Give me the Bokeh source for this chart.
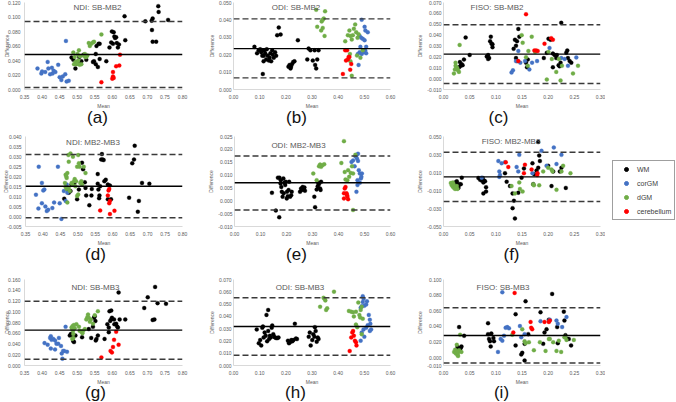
from bokeh.plotting import figure
from bokeh.models import (Span, Label, FixedTicker, NumeralTickFormatter, Range1d,
                          Legend, LegendItem, Div)
from bokeh.layouts import row, column
from bokeh.embed import file_html
from bokeh.resources import INLINE

GROUPS = ["WM", "corGM", "dGM", "cerebellum"]
COLORS = {"WM": "#000000", "corGM": "#4472C4", "dGM": "#70AD47", "cerebellum": "#FF0000"}

NDI_XTICKS = [0.35, 0.40, 0.45, 0.50, 0.55, 0.60, 0.65, 0.70, 0.75, 0.80]
ODI_XTICKS = [0.0, 0.1, 0.2, 0.3, 0.4, 0.5, 0.6]
FISO_XTICKS = [0.0, 0.05, 0.10, 0.15, 0.20, 0.25, 0.30]

# ---------------- (a) NDI: SB-MB2 ----------------
A_TITLE = "NDI: SB-MB2"
A_YTICKS = [0.0, 0.02, 0.04, 0.06, 0.08, 0.10, 0.12]
A_MEAN, A_UP, A_LO = 0.0482, 0.0937, 0.0027
A_WM = [(0.484,0.044),(0.489,0.041),(0.495,0.029),(0.501,0.038),(0.506,0.045),(0.512,0.039),(0.518,0.048),(0.526,0.041),(0.548,0.039),(0.553,0.049),(0.555,0.060),(0.561,0.063),(0.564,0.063),(0.545,0.038),(0.553,0.035),(0.559,0.031),(0.564,0.042),(0.583,0.039),(0.592,0.058),(0.597,0.065),(0.599,0.080),(0.604,0.079),(0.608,0.071),(0.611,0.072),(0.613,0.064),(0.616,0.058),(0.606,0.073),(0.602,0.063),(0.619,0.062),(0.637,0.068),(0.635,0.101),(0.694,0.094),(0.715,0.066),(0.713,0.082),(0.715,0.098),(0.725,0.066),(0.731,0.115),(0.732,0.107),(0.759,0.096),(0.712,0.095)]
A_COR = [(0.387,0.029),(0.398,0.022),(0.400,0.025),(0.409,0.024),(0.416,0.038),(0.418,0.029),(0.423,0.021),(0.430,0.022),(0.433,0.026),(0.438,0.024),(0.446,0.034),(0.450,0.017),(0.455,0.013),(0.459,0.018),(0.466,0.021),(0.470,0.011),(0.476,0.012),(0.468,0.067),(0.428,0.030)]
A_DGM = [(0.489,0.051),(0.493,0.045),(0.495,0.038),(0.498,0.035),(0.503,0.040),(0.505,0.054),(0.501,0.049),(0.508,0.046),(0.512,0.035),(0.517,0.047),(0.522,0.049),(0.526,0.045),(0.529,0.047),(0.533,0.064),(0.536,0.060),(0.540,0.063),(0.545,0.065),(0.548,0.066),(0.569,0.076),(0.523,0.045),(0.491,0.035),(0.500,0.036),(0.507,0.034)]
A_CER = [(0.569,0.010),(0.602,0.024),(0.602,0.018),(0.604,0.016),(0.600,0.015),(0.611,0.032),(0.620,0.033),(0.622,0.048)]

# ---------------- (b) ODI: SB-MB2 ----------------
B_TITLE = "ODI: SB-MB2"
B_YTICKS = [0.0, 0.01, 0.02, 0.03, 0.04, 0.05]
B_MEAN, B_UP, B_LO = 0.0235, 0.0406, 0.0067
B_WM = [(0.080,0.0245),(0.090,0.0208),(0.096,0.0225),(0.102,0.0231),(0.106,0.0214),(0.110,0.0194),(0.112,0.0225),(0.115,0.0162),(0.116,0.0194),(0.118,0.0225),(0.121,0.0208),(0.125,0.0173),(0.127,0.0231),(0.131,0.0194),(0.135,0.0166),(0.138,0.0183),(0.141,0.0208),(0.144,0.0162),(0.148,0.0225),(0.150,0.0200),(0.154,0.0183),(0.159,0.0214),(0.163,0.0194),(0.112,0.0089),(0.167,0.0312),(0.173,0.0356),(0.180,0.0316),(0.210,0.0131),(0.214,0.0141),(0.218,0.0121),(0.220,0.0131),(0.224,0.0146),(0.228,0.0158),(0.233,0.0162),(0.246,0.0283),(0.282,0.0173),(0.287,0.0235),(0.294,0.0225),(0.303,0.0166),(0.310,0.0225),(0.312,0.0141),(0.316,0.0121),(0.320,0.0173),(0.325,0.0225)]
B_COR = [(0.490,0.0401),(0.501,0.0360),(0.504,0.0339),(0.482,0.0308),(0.488,0.0297),(0.494,0.0291),(0.501,0.0283),(0.507,0.0245),(0.475,0.0204),(0.482,0.0214),(0.490,0.0204),(0.498,0.0214),(0.503,0.0225),(0.507,0.0208),(0.478,0.0141),(0.485,0.0245),(0.513,0.0329)]
B_DGM = [(0.316,0.0458),(0.350,0.0449),(0.320,0.0360),(0.337,0.0391),(0.341,0.0401),(0.345,0.0408),(0.335,0.0339),(0.341,0.0354),(0.348,0.0308),(0.427,0.0277),(0.437,0.0312),(0.443,0.0339),(0.447,0.0308),(0.452,0.0287),(0.456,0.0312),(0.460,0.0349),(0.465,0.0374),(0.469,0.0329),(0.474,0.0297),(0.478,0.0318),(0.445,0.0204),(0.447,0.0162),(0.452,0.0079),(0.472,0.0195),(0.485,0.0183),(0.494,0.0225)]
B_CER = [(0.418,0.0089),(0.427,0.0225),(0.434,0.0225),(0.430,0.0166),(0.437,0.0173),(0.440,0.0187),(0.443,0.0187),(0.446,0.0114),(0.450,0.0146)]

# ---------------- (c) FISO: SB-MB2 ----------------
C_TITLE = "FISO: SB-MB2"
C_YTICKS = [-0.01, 0.0, 0.01, 0.02, 0.03, 0.04, 0.05, 0.06, 0.07]
C_MEAN, C_UP, C_LO = 0.0225, 0.0495, -0.0045
C_WM = [(0.0314,0.0152),(0.0327,0.0118),(0.0346,0.0133),(0.0365,0.0124),(0.0391,0.0175),(0.0423,0.0378),(0.050,0.0217),(0.030,0.0104),(0.0827,0.0203),(0.0853,0.0217),(0.0872,0.0189),(0.0891,0.0344),(0.0904,0.0386),(0.0917,0.0321),(0.0936,0.0316),(0.0936,0.0288),(0.0853,0.0180),(0.134,0.0274),(0.1365,0.0358),(0.1385,0.0302),(0.1404,0.0344),(0.143,0.0457),(0.1449,0.0386),(0.1385,0.0189),(0.1404,0.0161),(0.1596,0.0104),(0.1577,0.0147),(0.161,0.0175),(0.1917,0.0189),(0.1974,0.0237),(0.2006,0.0367),(0.2045,0.0358),(0.209,0.0231),(0.2122,0.0217),(0.2154,0.0189),(0.2167,0.0217),(0.2199,0.0124),(0.2218,0.0113),(0.2237,0.0147),(0.225,0.0513),(0.2346,0.0237),(0.2365,0.0259),(0.2378,0.0189),(0.241,0.0161),(0.2442,0.0147),(0.209,0.0104)]
C_COR = [(0.130,0.0056),(0.1327,0.0076),(0.1385,0.0161),(0.143,0.0254),(0.1468,0.0147),(0.1558,0.0161),(0.1641,0.0085),(0.1692,0.0147),(0.1788,0.0161),(0.2026,0.0282),(0.225,0.0189),(0.2314,0.018),(0.2378,0.0118),(0.2538,0.0195)]
C_DGM = [(0.0199,0.0048),(0.0218,0.0085),(0.0231,0.0118),(0.025,0.0104),(0.0263,0.0096),(0.0295,0.0062),(0.0308,0.031),(0.0276,0.0076),(0.0231,0.0147),(0.1494,0.040),(0.1513,0.033),(0.1622,0.0254),(0.1577,0.0197),(0.161,0.0118),(0.1686,0.0386),(0.175,0.0245),(0.1974,-0.0008),(0.2006,0.0245),(0.207,0.018),(0.2154,0.0062),(0.2237,-0.0017),(0.2263,0.0118),(0.2474,0.0048),(0.257,0.0118),(0.2204,0.018)]
C_CER = [(0.143,0.0161),(0.1577,0.0592),(0.1737,0.0259),(0.177,0.0259),(0.180,0.0254),(0.193,0.0321),(0.2058,0.0372),(0.209,0.0358)]

# ---------------- (d) NDI: MB2-MB3 ----------------
D_TITLE = "NDI: MB2-MB3"
D_YTICKS = [-0.005, 0.0, 0.005, 0.010, 0.015, 0.020, 0.025, 0.030, 0.035, 0.040]
D_MEAN, D_UP, D_LO = 0.0151, 0.0310, -0.0006
D_WM = [(0.461,0.0089),(0.470,0.0135),(0.474,0.0119),(0.479,0.0127),(0.482,0.016),(0.486,0.016),(0.490,0.0168),(0.498,0.0086),(0.503,0.0135),(0.512,0.0269),(0.515,0.0236),(0.520,0.0171),(0.522,0.0143),(0.524,0.0105),(0.533,0.0056),(0.539,0.0105),(0.540,0.0138),(0.557,0.0212),(0.557,0.0164),(0.559,0.0135),(0.561,0.0091),(0.562,0.0105),(0.564,0.0151),(0.567,0.0285),(0.569,0.0312),(0.571,0.0285),(0.574,0.0282),(0.576,0.0176),(0.580,0.0184),(0.586,0.0086),(0.586,0.016),(0.592,0.0155),(0.595,0.0086),(0.663,0.0354),(0.656,0.0266),(0.661,0.0285),(0.647,0.0094),(0.675,0.0078),(0.672,0.0024),(0.684,0.0168),(0.705,0.0164)]
D_COR = [(0.380,0.0109),(0.388,0.0249),(0.397,0.0168),(0.401,0.013),(0.404,0.0135),(0.387,0.004),(0.397,0.0066),(0.407,0.005),(0.411,0.0027),(0.415,0.0034),(0.427,0.0042),(0.432,0.007),(0.443,0.0249),(0.448,0.0066),(0.453,-0.0012),(0.465,0.0078),(0.470,0.0119),(0.468,0.016),(0.460,0.0127)]
D_DGM = [(0.465,0.0209),(0.467,0.020),(0.468,0.0192),(0.470,0.0217),(0.463,0.0168),(0.465,0.0148),(0.468,0.0138),(0.473,0.0307),(0.474,0.0274),(0.479,0.0315),(0.482,0.0168),(0.484,0.016),(0.486,0.0299),(0.489,0.0176),(0.491,0.0187),(0.493,0.0151),(0.495,0.0176),(0.498,0.0249),(0.501,0.0307),(0.503,0.0266),(0.505,0.0249),(0.507,0.0168),(0.510,0.0176),(0.512,0.016),(0.517,0.0249),(0.522,0.0217),(0.470,0.007),(0.477,0.0127),(0.474,0.0143),(0.498,0.0102),(0.501,0.011)]
D_CER = [(0.564,0.003),(0.588,0.013),(0.590,0.0138),(0.592,0.0078),(0.590,0.0066),(0.592,0.0012),(0.605,0.0029),(0.586,0.0105)]

# ---------------- (e) ODI: MB2-MB3 ----------------
E_TITLE = "ODI: MB2-MB3"
E_YTICKS = [-0.010, -0.005, 0.0, 0.005, 0.010, 0.015, 0.020, 0.025]
E_MEAN, E_UP, E_LO = 0.0070, 0.0174, -0.0036
E_WM = [(0.144,0.0031),(0.159,-0.0038),(0.172,-0.0064),(0.167,0.009),(0.173,0.009),(0.178,0.008),(0.180,0.0054),(0.182,0.0035),(0.185,0.0016),(0.189,0.0029),(0.192,0.007),(0.195,0.0061),(0.197,0.0074),(0.201,0.0009),(0.205,0.0018),(0.208,0.0042),(0.210,0.0074),(0.214,0.0016),(0.218,0.0022),(0.220,0.0035),(0.177,0.0067),(0.188,0.0087),(0.202,0.0035),(0.252,0.0035),(0.256,0.0048),(0.259,0.0042),(0.262,0.0054),(0.265,0.0044),(0.269,0.0052),(0.271,0.0039),(0.307,0.0016),(0.310,-0.0025),(0.316,0.0044),(0.320,0.0057),(0.322,0.007),(0.325,0.0065),(0.329,0.0048),(0.331,0.0042),(0.333,0.0074)]
E_COR = [(0.450,0.0151),(0.456,0.0157),(0.462,0.0134),(0.465,0.0173),(0.469,0.0177),(0.471,0.0164),(0.475,0.0183),(0.475,0.0155),(0.478,0.0119),(0.482,0.0106),(0.486,0.0087),(0.488,0.0093),(0.490,0.0106),(0.473,0.0061),(0.469,0.0035),(0.473,0.008),(0.482,0.007)]
E_DGM = [(0.303,0.0106),(0.316,0.008),(0.325,0.0134),(0.329,0.0141),(0.333,0.0132),(0.338,0.0138),(0.345,0.0142),(0.411,0.0147),(0.421,0.0232),(0.424,0.0112),(0.427,0.0083),(0.434,0.008),(0.437,0.0119),(0.441,0.0093),(0.447,0.0108),(0.452,0.0134),(0.456,-0.0036),(0.465,0.0179),(0.456,0.0106)]
E_CER = [(0.421,0.0029),(0.424,0.0048),(0.421,0.0009),(0.431,0.0029),(0.433,0.0022),(0.437,0.0006),(0.434,0.0016),(0.427,0.0054)]

# ---------------- (f) FISO: MB2-MB3 ----------------
F_TITLE = "FISO: MB2-MB3"
F_YTICKS = [-0.05, -0.03, -0.01, 0.01, 0.03, 0.05]
F_MEAN, F_UP, F_LO = 0.0051, 0.0325, -0.0222
F_WM = [(0.0222,-0.001),(0.0254,-0.0043),(0.0267,-0.003),(0.0286,-0.0051),(0.0305,-0.003),(0.0330,-0.003),(0.0349,0.0043),(0.0254,0.0002),(0.0286,-0.0071),(0.0667,0.0039),(0.0699,0.0019),(0.073,0.001),(0.0749,0.0039),(0.0762,-0.001),(0.0775,0.001),(0.0762,-0.0132),(0.0813,-0.0112),(0.0813,-0.0063),(0.0794,0.0002),(0.1175,0.0092),(0.1207,-0.0002),(0.127,-0.0051),(0.132,-0.0132),(0.1346,-0.0214),(0.132,-0.0296),(0.1365,-0.041),(0.1429,-0.0124),(0.1492,0.0043),(0.1537,0.0145),(0.170,0.0202),(0.1715,-0.003),(0.1734,0.008),(0.1778,0.0121),(0.181,0.0153),(0.1829,0.0288),(0.181,0.0439),(0.1842,0.0227),(0.200,0.0174),(0.2064,-0.0051),(0.2096,0.0112),(0.2223,0.0112),(0.2254,0.0153),(0.2337,-0.0071)]
F_COR = [(0.073,0.0043),(0.1048,0.0227),(0.1067,0.0112),(0.1067,0.0051),(0.108,0.0071),(0.1111,0.0202),(0.1175,0.0214),(0.1397,0.0161),(0.1448,0.0296),(0.1429,0.0112),(0.170,0.0092),(0.1873,0.0341),(0.1969,0.0174),(0.2108,0.0378),(0.2159,0.0194),(0.2254,0.0296)]
F_DGM = [(0.014,-0.0018),(0.0159,-0.0043),(0.0178,-0.0059),(0.0203,-0.0071),(0.0222,-0.0083),(0.0241,-0.0071),(0.0254,-0.0051),(0.0191,-0.003),(0.0178,-0.001),(0.0267,-0.0083),(0.130,-0.0051),(0.1365,-0.0132),(0.1448,-0.001),(0.146,-0.0083),(0.1511,-0.0112),(0.1715,-0.003),(0.1727,-0.0043),(0.1829,-0.0043),(0.1905,0.0112),(0.200,0.0153),(0.2064,0.0133),(0.2083,0.0112),(0.2159,-0.0092),(0.2254,0.0112),(0.2286,0.0174),(0.2426,0.0092)]
F_CER = [(0.119,0.0214),(0.1238,0.0161),(0.1537,0.0092),(0.1556,0.0186),(0.1683,0.0133),(0.179,0.0071),(0.1797,0.0092)]

# ---------------- (g) NDI: SB-MB3 ----------------
G_TITLE = "NDI: SB-MB3"
G_YTICKS = [0.0, 0.02, 0.04, 0.06, 0.08, 0.10, 0.12, 0.14, 0.16]
G_MEAN, G_UP, G_LO = 0.0659, 0.1195, 0.0115
G_WM = [(0.479,0.0556),(0.482,0.0586),(0.486,0.0556),(0.489,0.0453),(0.491,0.0435),(0.495,0.0556),(0.514,0.0525),(0.533,0.0677),(0.540,0.0513),(0.545,0.0719),(0.548,0.0888),(0.550,0.0918),(0.552,0.0828),(0.553,0.0465),(0.555,0.0495),(0.559,0.0556),(0.578,0.0495),(0.586,0.0767),(0.590,0.0707),(0.592,0.1009),(0.597,0.1021),(0.597,0.0858),(0.599,0.0888),(0.605,0.0858),(0.606,0.0767),(0.611,0.0779),(0.614,0.0725),(0.616,0.0707),(0.618,0.1359),(0.621,0.0858),(0.637,0.0858),(0.691,0.1069),(0.701,0.1268),(0.715,0.0846),(0.720,0.0858),(0.722,0.1462),(0.729,0.116),(0.753,0.1148),(0.594,0.0828),(0.590,0.0620)]
G_COR = [(0.407,0.0417),(0.416,0.0387),(0.423,0.0513),(0.425,0.0544),(0.427,0.0477),(0.432,0.0495),(0.437,0.0465),(0.441,0.0405),(0.446,0.0405),(0.448,0.0513),(0.454,0.0362),(0.456,0.0224),(0.458,0.0127),(0.460,0.0272),(0.463,0.0272),(0.467,0.0719),(0.471,0.0254),(0.425,0.0314),(0.437,0.0300)]
G_DGM = [(0.484,0.0707),(0.486,0.0677),(0.487,0.0737),(0.489,0.0586),(0.486,0.0495),(0.489,0.0513),(0.488,0.0646),(0.491,0.0755),(0.493,0.0695),(0.498,0.0767),(0.505,0.0719),(0.507,0.0646),(0.512,0.0628),(0.515,0.0598),(0.517,0.0646),(0.522,0.0677),(0.526,0.0858),(0.529,0.0900),(0.531,0.0948),(0.533,0.0888),(0.536,0.0815),(0.539,0.0858),(0.545,0.0779),(0.550,0.0936),(0.559,0.1009)]
G_CER = [(0.569,0.0151),(0.595,0.0272),(0.599,0.0242),(0.602,0.0344),(0.605,0.0477),(0.611,0.0628),(0.618,0.0387)]

# ---------------- (h) ODI: SB-MB3 ----------------
H_TITLE = "ODI: SB-MB3"
H_YTICKS = [0.0, 0.01, 0.02, 0.03, 0.04, 0.05, 0.06, 0.07]
H_MEAN, H_UP, H_LO = 0.0318, 0.0551, 0.0084
H_WM = [(0.0888,0.0294),(0.0967,0.0181),(0.102,0.0207),(0.106,0.0163),(0.110,0.0307),(0.1126,0.0318),(0.1153,0.0228),(0.119,0.0268),(0.123,0.0242),(0.126,0.0412),(0.1285,0.0197),(0.1325,0.0452),(0.1325,0.0281),(0.136,0.0215),(0.139,0.0242),(0.142,0.0228),(0.146,0.0307),(0.148,0.0326),(0.152,0.0255),(0.155,0.0234),(0.159,0.0228),(0.163,0.0223),(0.168,0.0223),(0.172,0.0228),(0.208,0.0202),(0.212,0.0181),(0.216,0.0189),(0.221,0.0207),(0.225,0.0197),(0.229,0.0207),(0.2345,0.0339),(0.2385,0.022),(0.2425,0.0215),(0.2875,0.0234),(0.2915,0.0268),(0.295,0.0163),(0.301,0.0207),(0.305,0.0255),(0.309,0.0234),(0.311,0.0312),(0.314,0.0281),(0.318,0.0194),(0.322,0.0228),(0.325,0.0215)]
H_COR = [(0.494,0.0564),(0.497,0.0543),(0.494,0.0517),(0.490,0.0483),(0.486,0.0470),(0.500,0.0486),(0.507,0.0496),(0.510,0.0522),(0.517,0.0412),(0.521,0.0373),(0.523,0.0339),(0.513,0.0328),(0.507,0.0307),(0.497,0.0294),(0.490,0.0268),(0.500,0.0234),(0.486,0.0202),(0.521,0.0281),(0.526,0.0294)]
H_DGM = [(0.331,0.0478),(0.344,0.0551),(0.351,0.0530),(0.354,0.0452),(0.358,0.0465),(0.384,0.0601),(0.348,0.0543),(0.441,0.0444),(0.450,0.0438),(0.457,0.0433),(0.460,0.0399),(0.468,0.0438),(0.477,0.0512),(0.481,0.0412),(0.484,0.0391),(0.486,0.0452),(0.490,0.0478),(0.494,0.0381),(0.468,0.0333),(0.473,0.0312),(0.490,0.0255)]
H_CER = [(0.444,0.0118),(0.454,0.0268),(0.457,0.0281),(0.460,0.0242),(0.464,0.0202),(0.468,0.0189),(0.470,0.0163),(0.450,0.0228)]

# ---------------- (i) FISO: SB-MB3 ----------------
I_TITLE = "FISO: SB-MB3"
I_YTICKS = [-0.01, 0.0, 0.02, 0.04, 0.06, 0.08, 0.10]
I_MEAN, I_UP, I_LO = 0.0284, 0.0639, -0.0068
I_WM = [(0.0254,0.0095),(0.0267,0.0136),(0.0279,0.0115),(0.0298,0.0103),(0.0318,0.0115),(0.033,0.0128),(0.0343,0.0144),(0.0298,0.0391),(0.0394,0.028),(0.0851,0.0441),(0.0851,0.0301),(0.087,0.0239),(0.0889,0.021),(0.0902,0.0144),(0.0914,0.0309),(0.0953,0.0251),(0.0965,0.021),(0.1378,0.0556),(0.1378,0.0157),(0.1486,0.0041),(0.1505,0.0062),(0.155,0.0177),(0.155,-0.0037),(0.1568,0.0721),(0.1619,0.0301),(0.1854,0.0581),(0.1905,0.0177),(0.193,0.0321),(0.1969,0.0363),(0.2013,0.0486),(0.2076,0.0816),(0.2172,0.0391),(0.2184,0.0185),(0.2299,0.0589),(0.2311,0.0474),(0.233,0.0288),(0.2362,0.0239),(0.2394,0.0239),(0.2438,0.0157)]
I_COR = [(0.1124,0.0836),(0.1041,0.0074),(0.1092,0.0239),(0.1124,0.0218),(0.1156,0.028),(0.1187,0.0383),(0.1219,0.0391),(0.1251,0.0375),(0.146,0.0404),(0.1486,0.026),(0.155,0.0301),(0.1854,0.0466),(0.2013,0.0466),(0.2032,0.0486),(0.2159,0.0474),(0.2184,0.0433),(0.2267,0.0391),(0.235,0.0519)]
I_DGM = [(0.0203,0.0074),(0.0222,0.0103),(0.0235,0.0054),(0.0254,0.0087),(0.0267,0.0033),(0.0279,0.0062),(0.0298,0.0095),(0.0254,0.0165),(0.0318,0.0293),(0.0343,0.0074),(0.0279,0.0021),(0.1314,0.0293),(0.1505,0.0363),(0.155,0.021),(0.1568,0.0185),(0.1632,0.0198),(0.1727,0.0095),(0.1842,0.0198),(0.195,0.0087),(0.2013,0.0239),(0.2032,0.0239),(0.2096,0.0198),(0.2159,0.0087),(0.2248,0.0074),(0.2311,0.026),(0.233,0.0268),(0.235,0.0227),(0.249,0.0227),(0.2204,0.0218)]
I_CER = [(0.1334,0.0321),(0.1359,0.0828),(0.1664,0.0457),(0.1676,0.0383),(0.1695,0.0363),(0.2013,0.0457),(0.2032,0.0474),(0.193,0.0457)]

PANELS = [
    (A_TITLE, "(a)", (A_WM, A_COR, A_DGM, A_CER), A_MEAN, A_UP, A_LO, NDI_XTICKS, A_YTICKS),
    (B_TITLE, "(b)", (B_WM, B_COR, B_DGM, B_CER), B_MEAN, B_UP, B_LO, ODI_XTICKS, B_YTICKS),
    (C_TITLE, "(c)", (C_WM, C_COR, C_DGM, C_CER), C_MEAN, C_UP, C_LO, FISO_XTICKS, C_YTICKS),
    (D_TITLE, "(d)", (D_WM, D_COR, D_DGM, D_CER), D_MEAN, D_UP, D_LO, NDI_XTICKS, D_YTICKS),
    (E_TITLE, "(e)", (E_WM, E_COR, E_DGM, E_CER), E_MEAN, E_UP, E_LO, ODI_XTICKS, E_YTICKS),
    (F_TITLE, "(f)", (F_WM, F_COR, F_DGM, F_CER), F_MEAN, F_UP, F_LO, FISO_XTICKS, F_YTICKS),
    (G_TITLE, "(g)", (G_WM, G_COR, G_DGM, G_CER), G_MEAN, G_UP, G_LO, NDI_XTICKS, G_YTICKS),
    (H_TITLE, "(h)", (H_WM, H_COR, H_DGM, H_CER), H_MEAN, H_UP, H_LO, ODI_XTICKS, H_YTICKS),
    (I_TITLE, "(i)", (I_WM, I_COR, I_DGM, I_CER), I_MEAN, I_UP, I_LO, FISO_XTICKS, I_YTICKS),
]

# ---- layout (pixels) ----
COL_W = [205, 205, 195]
COL_LR = [(23, 23), (27, 20), (33, 5)]
Y_LABEL_SO = [4, 2, 2]          # y tick-label standoff per column
Y_AXIS_SO = [-5, 1, 1]          # y axis-label standoff per column
ROW_H = [111, 120, 122]
ROW_TB = [(2, 20), (8, 20), (14, 20)]
LETTER_H = [17, 17, 13]
LETTER_LH = [14, 14, 12]
TITLE_OFF = [(-6, -5), (-16, -5), (-25, -5), (-11, -6), (-14, -9), (-11, -5),
             (-8, -8), (-12, -8), (-19, -8)]
LETTER_SHIFT = [-5, -11, -9, -7, -11, 4, -7, -12, -6]
LEG_W = 70

FONT = "Liberation Sans"
GRAY = "#595959"


def make_panel(spec, k):
    title, letter, groups, mean, up, lo, xt, yt = spec
    r, c = divmod(k, 3)
    L, R = COL_LR[c]
    T, B = ROW_TB[r]
    tdx, tdy = TITLE_OFF[k]
    xr = (xt[0], xt[-1])
    yr = (yt[0], yt[-1])
    p = figure(width=COL_W[c], height=ROW_H[r], x_range=Range1d(*xr), y_range=Range1d(*yr),
               title=None, output_backend="svg", toolbar_location=None,
               min_border_left=L, min_border_right=R, min_border_top=T, min_border_bottom=B)
    p.outline_line_color = None
    p.xgrid.visible = False
    p.ygrid.visible = False
    for ax, ticks, fmt, lab, so, aso in ((p.xaxis[0], xt, "0.00", "Mean", 5, 1),
                                         (p.yaxis[0], yt, "0.000", "Difference",
                                          Y_LABEL_SO[c], Y_AXIS_SO[c])):
        ax.ticker = FixedTicker(ticks=ticks)
        ax.formatter = NumeralTickFormatter(format=fmt)
        ax.axis_label = lab
        ax.axis_label_text_font_size = "5px"
        ax.axis_label_text_font_style = "normal"
        ax.axis_label_text_color = GRAY
        ax.axis_label_text_font = FONT
        ax.axis_label_standoff = aso
        ax.major_label_text_font_size = "5px"
        ax.major_label_text_color = GRAY
        ax.major_label_text_font = FONT
        ax.major_label_standoff = so
        ax.major_tick_line_color = None
        ax.major_tick_out = 0
        ax.major_tick_in = 0
        ax.minor_tick_line_color = None
        ax.minor_tick_out = 0
        ax.axis_line_color = "#D9D9D9"
        ax.axis_line_width = 1
    for grp, pts in zip(GROUPS, groups):
        xs = [q[0] for q in pts]
        ys = [q[1] for q in pts]
        p.scatter(xs, ys, size=4, fill_color=COLORS[grp], line_color=COLORS[grp], line_width=0.3)
    p.add_layout(Span(location=mean, dimension="width", line_color="#000000", line_width=1.4))
    for v in (up, lo):
        p.add_layout(Span(location=v, dimension="width", line_color="#3a3a3a",
                          line_width=1.4, line_dash="6 3"))
    xm = (xr[0] + xr[1]) / 2
    p.add_layout(Label(x=xm, y=yr[1], x_offset=tdx, y_offset=tdy, text=title,
                       text_align="center", text_baseline="middle",
                       text_font_size="8px", text_color=GRAY, text_font=FONT))
    return p


def letter_div(text, k):
    r, c = divmod(k, 3)
    s = LETTER_SHIFT[k]
    styles = {"text-align": "center", "font-size": "17px", "line-height": "%dpx" % LETTER_LH[r],
              "font-family": FONT, "color": "#111111", "box-sizing": "border-box",
              "overflow": "visible"}
    if s < 0:
        styles["padding-right"] = "%dpx" % (-2 * s)
    else:
        styles["padding-left"] = "%dpx" % (2 * s)
    return Div(text=text, width=COL_W[c], height=LETTER_H[r], margin=(0, 0, 0, 0), styles=styles)


figs = [make_panel(s, k) for k, s in enumerate(PANELS)]
letters = [letter_div(s[1], k) for k, s in enumerate(PANELS)]

# legend cell, same top/bottom borders as its row
lT, lB = ROW_TB[1]
lf = figure(width=LEG_W, height=ROW_H[1], output_backend="svg", toolbar_location=None,
            title=None, x_range=Range1d(0, 1), y_range=Range1d(0, 1),
            x_axis_location=None, y_axis_location=None,
            min_border_left=0, min_border_right=0, min_border_top=lT, min_border_bottom=lB)
lf.grid.visible = False
lf.outline_line_color = None
NAN = float("nan")
items = []
for grp in GROUPS:
    rr = lf.scatter(x=[NAN], y=[NAN], size=5, fill_color=COLORS[grp], line_color=COLORS[grp])
    items.append(LegendItem(label=grp, renderers=[rr]))
leg = Legend(items=items, location=(7, 6), border_line_color="#404040", border_line_width=1,
             background_fill_color="white", background_fill_alpha=1,
             padding=3, spacing=4, margin=0,
             glyph_width=20, glyph_height=10, label_height=10, label_standoff=1,
             label_text_font_size="7px", label_text_color="#404040", label_text_font=FONT)
lf.add_layout(leg)

layout = column(row(figs[0], figs[1], figs[2]),
                row(letters[0], letters[1], letters[2]),
                row(figs[3], figs[4], figs[5], lf),
                row(letters[3], letters[4], letters[5]),
                row(figs[6], figs[7], figs[8]),
                row(letters[6], letters[7], letters[8]))

open("out.html", "w").write(file_html(layout, INLINE))
